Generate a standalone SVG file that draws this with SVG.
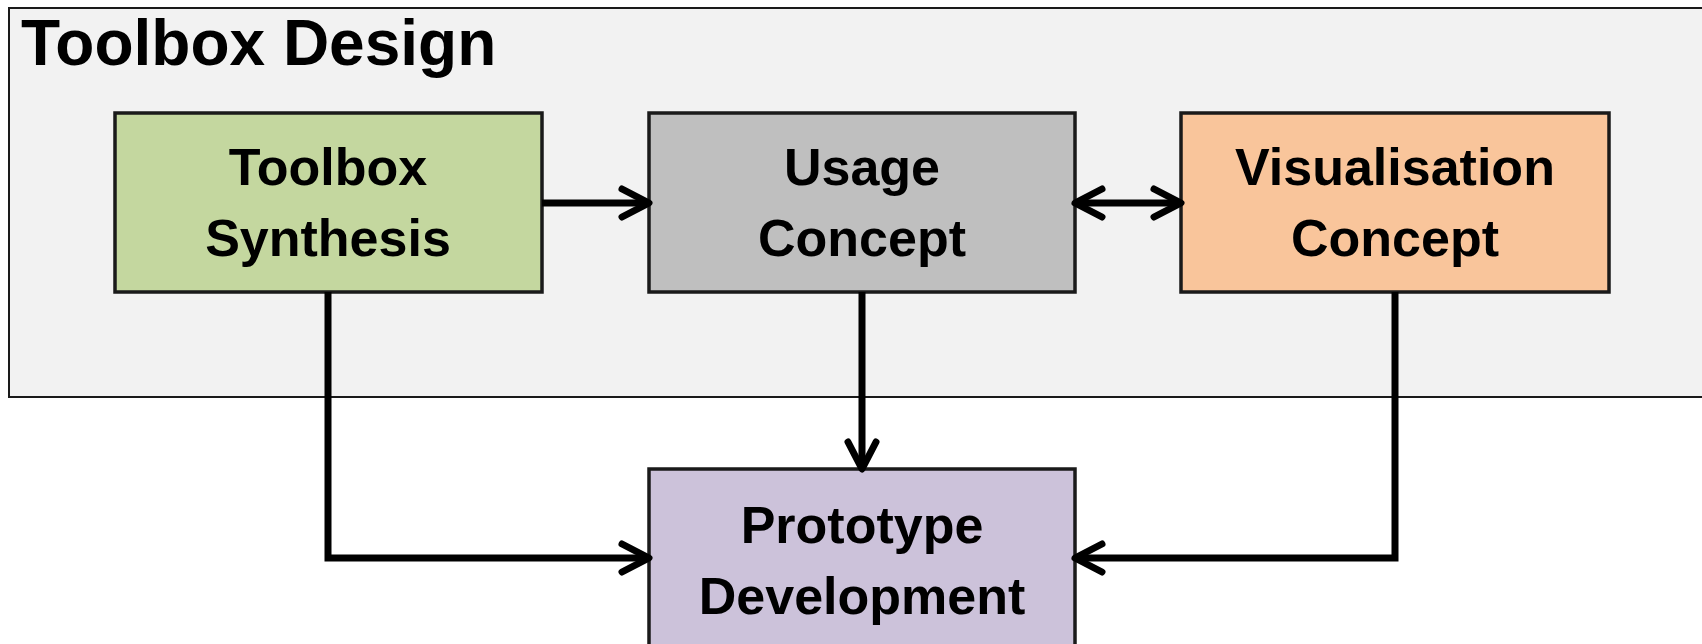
<svg xmlns="http://www.w3.org/2000/svg" width="1702" height="644" viewBox="0 0 1702 644">
  <style>
    .frame { fill: #f2f2f2; stroke: #1a1a1a; stroke-width: 2; }
    .box { stroke: #1a1a1a; stroke-width: 3.5; }
    .label { font-family: "Liberation Sans", Arial, sans-serif; font-weight: bold; font-size: 52px; fill: #000; text-anchor: middle; }
    .title { font-family: "Liberation Sans", Arial, sans-serif; font-weight: bold; font-size: 64px; fill: #000; }
    .link { fill: none; stroke: #000; stroke-width: 7; stroke-linejoin: miter; }
  </style>
  <defs>
    <marker id="chevron" markerUnits="userSpaceOnUse" markerWidth="40" markerHeight="40" refX="30" refY="16" orient="auto-start-reverse" overflow="visible">
      <path d="M3,2 L30,16 L3,30" fill="none" stroke="#000" stroke-width="7" stroke-linecap="round" stroke-linejoin="round"/>
    </marker>
  </defs>

  <!-- container frame -->
  <g id="toolbox-design">
    <rect class="frame" x="9" y="8" width="1720" height="389"/>
    <text class="title" x="21" y="65">Toolbox Design</text>
  </g>

  <g id="toolbox-synthesis">
    <rect class="box" x="115" y="113" width="427" height="179" fill="#c4d79f"/>
    <text class="label" x="328" y="185">Toolbox</text>
    <text class="label" x="328" y="256">Synthesis</text>
  </g>

  <g id="usage-concept">
    <rect class="box" x="649" y="113" width="426" height="179" fill="#bfbfbf"/>
    <text class="label" x="862" y="185">Usage</text>
    <text class="label" x="862" y="256">Concept</text>
  </g>

  <g id="visualisation-concept">
    <rect class="box" x="1181" y="113" width="428" height="179" fill="#f9c59b"/>
    <text class="label" x="1395" y="185">Visualisation</text>
    <text class="label" x="1395" y="256">Concept</text>
  </g>

  <g id="prototype-development">
    <rect class="box" x="649" y="469" width="426" height="200" fill="#ccc2da"/>
    <text class="label" x="862" y="543">Prototype</text>
    <text class="label" x="862" y="614">Development</text>
  </g>

  <!-- connectors -->
  <g id="connectors">
    <path class="link" d="M542,203 L649,203" marker-end="url(#chevron)"/>
    <path class="link" d="M1075,203 L1181,203" marker-start="url(#chevron)" marker-end="url(#chevron)"/>
    <path class="link" d="M862,292 L862,469" marker-end="url(#chevron)"/>
    <path class="link" d="M328,292 L328,558 L649,558" marker-end="url(#chevron)"/>
    <path class="link" d="M1395,292 L1395,558 L1075,558" marker-end="url(#chevron)"/>
  </g>
</svg>
